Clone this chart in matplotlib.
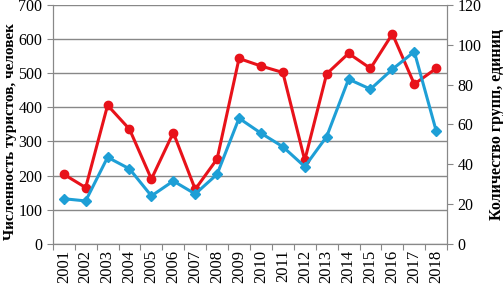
import matplotlib

matplotlib.use("Agg")
import matplotlib.pyplot as plt
import numpy as np

years = [str(y) for y in range(2001, 2019)]
tourists = [204, 165, 406, 336, 190, 326, 160, 249, 543, 521, 502, 245, 498, 558, 514, 615, 468, 514]
groups = [22.7, 21.6, 43.5, 37.7, 24.1, 31.6, 25.1, 35.0, 63.1, 55.6, 48.8, 38.8, 53.9, 82.7, 77.7, 87.7, 96.5, 56.7]

RED = "#e8121a"
BLUE = "#1e9fd6"

plt.rcParams["font.family"] = ["Liberation Serif", "DejaVu Serif"]

fig = plt.figure(figsize=(5.03, 2.86), dpi=100)
ax = fig.add_axes([0.105, 0.147, 0.784, 0.836])
ax2 = ax.twinx()

x = np.arange(len(years))
ax.plot(x, tourists, color=RED, lw=2.2, marker="o", ms=6, zorder=3)
ax2.plot(x, groups, color=BLUE, lw=2.2, marker="D", ms=5.5, zorder=3)

ax.set_xlim(-0.5, len(years) - 0.5)
ax.set_ylim(0, 700)
ax.set_yticks(range(0, 701, 100))
ax2.set_ylim(0, 120)
ax2.set_yticks(range(0, 121, 20))

# ticks between the years, labels centred on the points
ax.set_xticks(np.arange(-0.5, len(years), 1.0))
ax.set_xticklabels([])
ax.set_xticks(x, minor=True)
ax.set_xticklabels(years, minor=True, rotation=90, fontsize=12)
ax.tick_params(axis="x", which="major", length=4, color="#888888")
ax.tick_params(axis="x", which="minor", length=0, pad=4)

ax.grid(axis="y", color="#888888", lw=1)
ax.set_axisbelow(True)
ax.tick_params(axis="y", labelsize=11.5, length=4, color="#888888")
ax2.tick_params(axis="y", labelsize=11.5, length=4, color="#888888")

for a in (ax, ax2):
    a.spines["top"].set_visible(False)
    for s in ("left", "right", "bottom"):
        a.spines[s].set_color("#888888")

ax.set_ylabel("Численность туристов, человек", fontsize=11, fontweight="bold", labelpad=3)
ax.yaxis.set_label_coords(-0.09, 0.47)
ax2.set_ylabel("Количество групп, единиц", fontsize=11.5, fontweight="bold", rotation=90, labelpad=5)

fig.savefig("out.png", dpi=100)
